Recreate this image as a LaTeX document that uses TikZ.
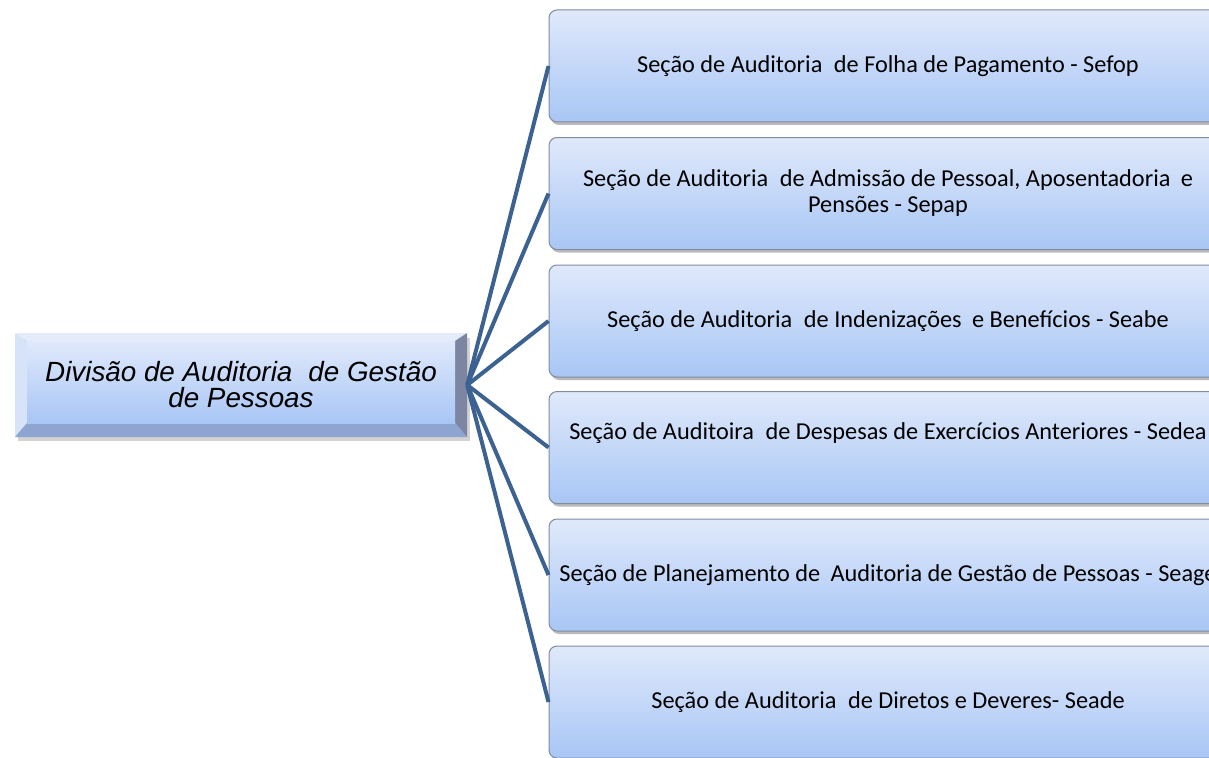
\documentclass[tikz,border=0pt]{standalone}
\usepackage{fontspec}
\setmainfont{Carlito}
\newfontfamily\arialfont{Liberation Sans}
\usetikzlibrary{shadows}
\definecolor{boxtop}{RGB}{224,233,251}
\definecolor{boxbot}{RGB}{168,198,245}
\definecolor{boxline}{RGB}{128,140,160}
\definecolor{connc}{RGB}{59,98,145}
\definecolor{bevtop}{RGB}{228,236,251}
\definecolor{bevleft}{RGB}{214,227,249}
\definecolor{bevright}{RGB}{124,134,163}
\definecolor{bevbot}{RGB}{141,165,208}
\begin{document}
\begin{tikzpicture}[x=1pt,y=-1pt]
\tikzset{
  secbox/.style={draw=boxline, line width=1pt, rounded corners=8pt,
    minimum width=678pt, minimum height=112pt, inner sep=0pt,
    top color=boxtop, bottom color=boxbot,
    drop shadow={shadow xshift=2pt, shadow yshift=-3pt, opacity=0.45, fill=black!60},
    align=center, font=\fontsize{24.3}{26}\selectfont},
  conn/.style={draw=connc, line width=4pt},
  rootlabel/.style={minimum width=452pt, minimum height=104pt, inner sep=0pt,
    align=center, font=\arialfont\itshape\fontsize{27.8}{26}\selectfont}
}
\useasboundingbox (0,0) rectangle (1209,757);
\clip (0,0) rectangle (1209,757);
\fill[white] (0,0) rectangle (1209,757);
% root bevel box
\fill[black!50, opacity=0.35] (18,338) rectangle (470,441);
\fill[bevtop] (15,333) -- (467,333) -- (455,341) -- (27,341) -- cycle;
\fill[bevleft] (15,333) -- (27,341) -- (27,423) -- (15,437) -- cycle;
\fill[bevright] (467,333) -- (467,437) -- (455,423) -- (455,341) -- cycle;
\fill[bevbot] (15,437) -- (467,437) -- (455,423) -- (27,423) -- cycle;
\shade[top color=boxtop, bottom color=boxbot] (27,341) rectangle (455,423);
\node[rootlabel] (root) at (241,385) {Divisão de Auditoria\hspace{0.3em} de Gestão\\de Pessoas};
% section boxes
\node[secbox] (b1) at (888,66) {Seção de Auditoria\hspace{0.25em} de Folha de Pagamento - Sefop};
\node[secbox] (b2) at (888,193.5) {Seção de Auditoria\hspace{0.25em} de Admissão de Pessoal, Aposentadoria\hspace{0.2em} e\\Pensões - Sepap};
\node[secbox] (b3) at (888,321) {Seção de Auditoria\hspace{0.25em} de Indenizações\hspace{0.2em} e Benefícios - Seabe};
\node[secbox] (b4) at (888,447.5) {Seção de Auditoira\hspace{0.25em} de Despesas de Exercícios Anteriores - Sedea\\\strut};
\node[secbox] (b5) at (888,575) {Seção de Planejamento de\hspace{0.2em} Auditoria de Gestão de Pessoas - Seage};
\node[secbox] (b6) at (888,702) {Seção de Auditoria\hspace{0.25em} de Diretos e Deveres- Seade};
% connectors
\foreach \b in {b1,b2,b3,b4,b5,b6}{
  \draw[conn] (root.east) -- (\b.west);
}
\end{tikzpicture}
\end{document}
